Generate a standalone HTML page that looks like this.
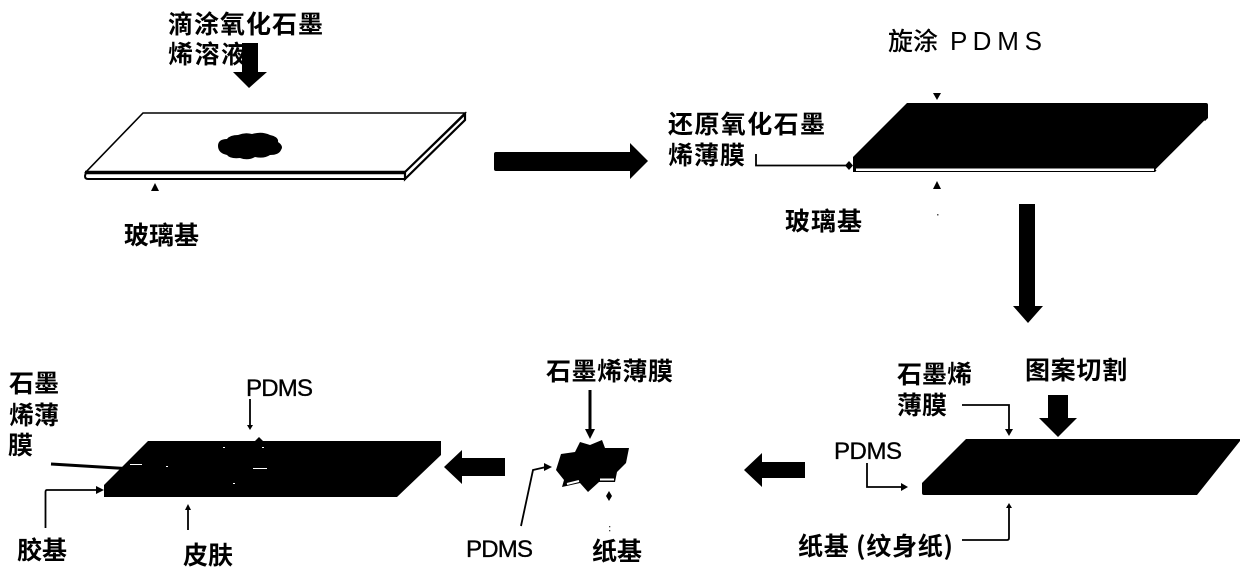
<!DOCTYPE html>
<html><head><meta charset="utf-8"><style>
html,body{margin:0;padding:0;background:#fff;width:1240px;height:574px;overflow:hidden}
svg{display:block}
text{font-family:"Liberation Sans","Noto Sans CJK SC",sans-serif;fill:#000}
.c{font-size:25px;font-weight:700;font-family:"Noto Sans CJK SC","WenQuanYi Zen Hei",sans-serif}
.p{font-size:24px;font-family:"Liberation Sans",sans-serif;stroke:#000;stroke-width:.35}
.l{fill:none;stroke:#000;stroke-width:1.8}
</style></head><body>
<svg width="1240" height="574" viewBox="0 0 1240 574" xmlns="http://www.w3.org/2000/svg">
<!-- Slide 1 -->
<path d="M143 113H465L405 172H86Z" fill="#fff" stroke="#000" stroke-width="1.6"/>
<path d="M86 172H405V179H88Q85 179 85 176Z" fill="#fff" stroke="#000" stroke-width="2"/>
<path d="M85 172.500H405" stroke="#000" stroke-width="3.500"/>
<path d="M405 172L465 114V120L405 179Z" fill="#fff" stroke="#000" stroke-width="2.200"/>
<path d="M218 146Q218 139 227 139Q230 135 238 135Q245 132 252 134Q262 131 270 135Q279 137 278 142Q284 146 281 150Q279 155 270 155Q264 159 255 157Q248 161 240 158Q230 159 227 155Q218 153 218 146Z" fill="#000"/>
<path d="M242 43H258V72H267L249 88L233 72H242Z" fill="#000"/>
<path d="M155 183L159 191H151Z" fill="#000"/>
<text class="c" x="168" y="33" textLength="155">滴涂氧化石墨</text>
<text class="c" x="168" y="63" textLength="78">烯溶液</text>
<text class="c" x="124" y="244" textLength="75">玻璃基</text>
<!-- Right arrow -->
<path d="M496 152H630V143L648 161L630 179V171H496Q494 171 494 169V154Q494 152 496 152Z" fill="#000"/>
<!-- Slide 2 -->
<path d="M907 103H1206Q1208 103 1208 105V118L1155 172H853V157Z" fill="#000"/>
<path d="M856 168.500H1154V171H856Z" fill="#fff"/>
<path d="M1156 170L1205 121" stroke="#fff" stroke-width="1.600"/>
<path d="M933 93H941L937 100Z" fill="#000"/>
<path d="M937 181L941 189H933Z" fill="#000"/>
<rect x="937" y="214" width="1.500" height="1.500" fill="#555"/>
<text x="888" y="50" font-size="25" style="font-family:'Noto Sans CJK SC',sans-serif;font-weight:500">旋涂</text>
<text x="950" y="50" textLength="92" style="font-size:26px;font-family:'Liberation Sans',sans-serif">P D M S</text>
<text class="c" x="668" y="133" textLength="157">还原氧化石墨</text>
<text class="c" x="668" y="164" textLength="77">烯薄膜</text>
<text class="c" x="785" y="230" textLength="77">玻璃基</text>
<path class="l" d="M756 154V165.500H846"/>
<path d="M845 165.500L849 161L853 165.500L849 170Z" fill="#000"/>
<!-- Down arrow -->
<path d="M1019 204H1035V306H1043L1028 323L1013 306H1019Z" fill="#000"/>
<!-- Slab bottom right -->
<path d="M966 439H1240V441L1197 495H924Q922 495 922 493V483Z" fill="#000"/>
<path d="M1048 395H1068V418H1077L1058 437L1039 418H1048Z" fill="#000"/>
<text class="c" x="1025" y="379" textLength="102">图案切割</text>
<text class="c" x="897" y="383" textLength="75">石墨烯</text>
<text class="c" x="897" y="414" textLength="50">薄膜</text>
<path class="l" d="M962 405H1009V431"/>
<path d="M1005 429H1013L1009 436Z" fill="#000"/>
<text class="p" x="834" y="459" textLength="68">PDMS</text>
<path class="l" d="M867 463V487H902"/>
<path d="M901 483L908 487L901 491Z" fill="#000"/>
<path d="M744 470L762 453V462H805V478H762V487Z" fill="#000"/>
<text class="c" x="798" y="555" textLength="155">纸基 (纹身纸)</text>
<path class="l" d="M962 540H1007Q1009 540 1009 538V506"/>
<path d="M1006 508L1009 503L1012 508Z" fill="#000"/>
<!-- Star -->
<path d="M580 442L590 445L602 440L605 448L629 448L626 463L617 472L615 482L599 482L588 492L580 483L562 487L564 480L556 470L561 454L575 452Z" fill="#000"/>
<path d="M567 484L579 481M600 479.500H614" stroke="#fff" stroke-width="2"/>
<text class="c" x="546" y="380" textLength="127">石墨烯薄膜</text>
<path d="M590 390V430" stroke="#000" stroke-width="3"/>
<path d="M585 429H595L590 439Z" fill="#000"/>
<text class="p" x="466" y="557" textLength="67">PDMS</text>
<path class="l" d="M521 526L533 470L546 467"/>
<path d="M544 463L552 467L544 471Z" fill="#000"/>
<path d="M609 491L612 496L609 501L606 496Z" fill="#000"/>
<rect x="609" y="526" width="1.300" height="1.300" fill="#444"/>
<rect x="609" y="530" width="1.300" height="1.300" fill="#444"/>
<text class="c" x="592" y="560" textLength="50">纸基</text>
<path d="M444 467L462 450V458H505V476H462V484Z" fill="#000"/>
<!-- Slab bottom left -->
<path d="M148 441H441V455L397 497H104V485Z" fill="#000"/>
<path d="M255 441L259 437L263 441Z" fill="#000"/>
<g fill="#fff"><rect x="130" y="464" width="12" height="1"/><rect x="166" y="466" width="2" height="1"/><rect x="253" y="468" width="14" height="1"/><rect x="233" y="483" width="2" height="1"/><rect x="223" y="447" width="2" height="1"/><rect x="262" y="447" width="2" height="1"/></g>
<text class="p" x="246" y="396" textLength="67">PDMS</text>
<path class="l" d="M250 399V426"/>
<path d="M247 425H253L250 430Z" fill="#000"/>
<text class="c" x="9" y="392" textLength="50">石墨</text>
<text class="c" x="9" y="424" textLength="50">烯薄</text>
<text class="c" x="8" y="454" font-size="25">膜</text>
<path d="M51 464L125 468.500" stroke="#000" stroke-width="3"/>
<path class="l" d="M45.500 528V492Q45.500 490 47 490H98"/>
<path d="M96 486L104 490L96 494Z" fill="#000"/>
<text class="c" x="17" y="559" textLength="50">胶基</text>
<path class="l" d="M188 530V508"/>
<path d="M185 510L188 504L191 510Z" fill="#000"/>
<text class="c" x="183" y="564" textLength="50">皮肤</text>
</svg>
</body></html>
